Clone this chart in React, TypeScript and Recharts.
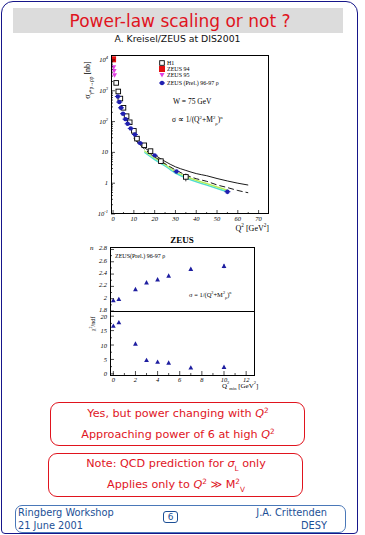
import React from 'react'
import { ComposedChart, ScatterChart, Scatter, Line, Area, XAxis, YAxis, ErrorBar } from 'recharts'

// sigma(gamma* p -> rho p) at W = 75 GeV
const h1Q2 = [1.5, 2.5, 3.5, 5, 6.5, 8, 10, 11.5, 15, 18, 23, 35]
const h1Sigma = [1800, 950, 560, 280, 150, 95, 50, 28, 17, 11, 5.2, 1.6]
const h1Err = [0, 0, 0, 0, 0, 0, 0, 0, 0, 1.5, 0.8, 0.45]

const zeus94Q2 = [0]
const zeus94Sigma = [10500]

const zeus95Q2 = [0.3, 0.5, 0.7]
const zeus95Sigma = [5800, 4400, 3200]

const prelQ2 = [2.3, 3, 3.8, 4.8, 6, 7, 8.5, 10.5, 13, 20, 30.5, 55]
const prelSigma = [650, 430, 280, 180, 120, 85, 60, 38, 20, 8, 2.4, 0.53]
const prelErr = [0, 0, 0, 0, 0, 0, 0, 0, 0, 0, 0.2, 0.09]

// the two fitted curves (solid and dashed)
const fitQ2 = [10, 15, 20, 25, 30, 35, 40, 45, 50, 55, 60, 65]
const fitSolid = [30, 14.5, 8.3, 5.1, 3.4, 2.6, 2.05, 1.75, 1.42, 1.18, 1.0, 0.87]
const fitDashed = [28, 13, 7.2, 4.3, 2.7, 1.85, 1.4, 1.15, 0.88, 0.72, 0.58, 0.49]

// coloured band
const bandQ2 = [15, 20, 25, 30, 35, 40, 45, 50, 55]
const bandLow = [9.5, 5.5, 3.4, 2.0, 1.4, 1.05, 0.82, 0.64, 0.5]
const bandMid = [10.6, 6.2, 3.8, 2.25, 1.57, 1.17, 0.92, 0.71, 0.56]
const bandHigh = [12, 7, 4.3, 2.5, 1.75, 1.32, 1.03, 0.8, 0.63]

// power n and chi2/ndf vs Q2_min
const minQ2 = [0, 0.5, 2, 3, 4, 5, 7, 10]
const powerN = [1.97, 1.99, 2.15, 2.26, 2.31, 2.37, 2.48, 2.53]
const powerErr = [0.01, 0.01, 0.015, 0.015, 0.015, 0.015, 0.02, 0.035]
const chi2 = [16.6, 17.8, 10.4, 4.7, 4.1, 3.8, 2.1, 2.3]

const xTicksTop = [0, 5, 10, 15, 20, 25, 30, 35, 40, 45, 50, 55, 60, 65, 70]
const xMajorsTop = [0, 10, 20, 30, 40, 50, 60, 70]
const logMajors = [0.1, 1, 10, 100, 1000, 10000]
const logTicks = [
  0.1, 0.2, 0.3, 0.4, 0.5, 0.6, 0.7, 0.8, 0.9,
  1, 2, 3, 4, 5, 6, 7, 8, 9,
  10, 20, 30, 40, 50, 60, 70, 80, 90,
  100, 200, 300, 400, 500, 600, 700, 800, 900,
  1000, 2000, 3000, 4000, 5000, 6000, 7000, 8000, 9000, 10000,
]
const xTicksLow = [0, 1, 2, 3, 4, 5, 6, 7, 8, 9, 10, 11, 12]
const xMajorsLow = [0, 2, 4, 6, 8, 10, 12]
const nTicks = [1.8, 1.9, 2, 2.1, 2.2, 2.3, 2.4, 2.5, 2.6, 2.7, 2.8]
const nMajors = [1.8, 2, 2.2, 2.4, 2.6, 2.8]
const chiTicks = [0, 2.5, 5, 7.5, 10, 12.5, 15, 17.5, 20]
const chiMajors = [0, 5, 10, 15, 20]

const h1Data = h1Q2.map((q, i) => ({ q2: q, sigma: h1Sigma[i], err: h1Err[i] }))
const zeus94Data = zeus94Q2.map((q, i) => ({ q2: q, sigma: zeus94Sigma[i] }))
const zeus95Data = zeus95Q2.map((q, i) => ({ q2: q, sigma: zeus95Sigma[i] }))
const prelData = prelQ2.map((q, i) => ({ q2: q, sigma: prelSigma[i], err: prelErr[i] }))
const solidData = fitQ2.map((q, i) => ({ q2: q, sigma: fitSolid[i] }))
const dashedData = fitQ2.map((q, i) => ({ q2: q, sigma: fitDashed[i] }))
const bandLowData = bandQ2.map((q, i) => ({ q2: q, band: [bandLow[i], bandMid[i]] }))
const bandHighData = bandQ2.map((q, i) => ({ q2: q, band: [bandMid[i], bandHigh[i]] }))
const nData = minQ2.map((q, i) => ({ q2: q, n: powerN[i], err: powerErr[i] }))
const chiData = minQ2.map((q, i) => ({ q2: q, chi: chi2[i] }))

const RED = '#e0141e'
const NAVY = '#1e1ea0'
const FOOT = '#1c4f96'
const PLOT_FONT = '"Liberation Serif", serif'

const openSquare = (p: any) => (
  <rect x={p.cx - 2.3} y={p.cy - 2.3} width={4.6} height={4.6} fill="#fff" stroke="#000" strokeWidth={0.9} />
)
const redSquare = (p: any) => <rect x={p.cx - 3} y={p.cy - 3} width={6} height={6} fill="#e41010" />
const invTriangle = (p: any) => (
  <polygon points={`${p.cx - 2.5},${p.cy - 2} ${p.cx + 2.5},${p.cy - 2} ${p.cx},${p.cy + 2.5}`} fill="#e040e0" />
)
const blueStar = (p: any) => (
  <g>
    <circle cx={p.cx} cy={p.cy} r={2.2} fill="#2020b0" />
    <line x1={p.cx - 3} x2={p.cx + 3} y1={p.cy} y2={p.cy} stroke="#2020b0" strokeWidth={1} />
  </g>
)
const triangle = (p: any) => (
  <polygon points={`${p.cx},${p.cy - 2.6} ${p.cx - 2.4},${p.cy + 1.8} ${p.cx + 2.4},${p.cy + 1.8}`} fill={NAVY} />
)

// ticks point inward, like the PAW frame
const makeYTick = (majors: number[], fmt: (v: number) => React.ReactNode, dyLabel = 2) => (props: any) => {
  const { x, y, payload } = props
  const major = majors.some((m) => Math.abs(m - payload.value) < 1e-9)
  return (
    <g>
      <line x1={x} x2={x + (major ? 4 : 2)} y1={y} y2={y} stroke="#000" strokeWidth={0.7} />
      {major && (
        <text x={x - 3} y={y + dyLabel} textAnchor="end" fontSize={6.5} fontStyle="italic" fontFamily={PLOT_FONT} fill="#000">
          {fmt(payload.value)}
        </text>
      )}
    </g>
  )
}
const makeXTick = (majors: number[], showLabel = true) => (props: any) => {
  const { x, y, payload } = props
  const major = majors.includes(payload.value)
  return (
    <g>
      <line x1={x} x2={x} y1={y} y2={y - (major ? 4 : 2)} stroke="#000" strokeWidth={0.7} />
      {major && showLabel && (
        <text x={x} y={y + 7} textAnchor="middle" fontSize={6.5} fontStyle="italic" fontFamily={PLOT_FONT} fill="#000">
          {payload.value}
        </text>
      )}
    </g>
  )
}

const logLabel = (v: number) => {
  const e = Math.round(Math.log10(v))
  if (e === 0) return '1'
  if (e === 1) return '10'
  return (
    <>
      <tspan>10</tspan>
      <tspan dy={-3} fontSize={4.5}>{e}</tspan>
    </>
  )
}

const LogYTick = makeYTick(logMajors, logLabel)
const TopXTick = makeXTick(xMajorsTop)
const NYTick = makeYTick(nMajors, (v) => String(Math.round(v * 10) / 10), 1)
const ChiYTick = makeYTick(chiMajors, (v) => String(v), 2.5)
const LowXTick = makeXTick(xMajorsLow)
const MidXTick = makeXTick(xMajorsLow, false)

const Txt = ({ x, y, size, children, align = 'left', style = {} }: any) => (
  <div
    style={{
      position: 'absolute',
      left: x,
      top: y,
      transform: align === 'center' ? 'translate(-50%,-50%)' : align === 'right' ? 'translate(-100%,-50%)' : 'translateY(-50%)',
      fontSize: size,
      lineHeight: 1,
      whiteSpace: 'nowrap',
      ...style,
    }}
  >
    {children}
  </div>
)
const Sup = ({ children }: any) => (
  <span style={{ fontSize: '0.65em', verticalAlign: 'super', lineHeight: 0 }}>{children}</span>
)
const Sub = ({ children }: any) => (
  <span style={{ fontSize: '0.65em', verticalAlign: 'sub', lineHeight: 0 }}>{children}</span>
)
const Frame = ({ x, y, w, h }: any) => (
  <div style={{ position: 'absolute', left: x, top: y, width: w, height: h, border: '1px solid #000', boxSizing: 'border-box', pointerEvents: 'none' }} />
)

const legendRows = [
  { label: 'H1', y: 62.5, shape: openSquare },
  { label: 'ZEUS 94', y: 68.5, shape: redSquare },
  { label: 'ZEUS 95', y: 75, shape: invTriangle },
  { label: 'ZEUS (Prel.) 96-97 ρ', y: 83.3, shape: blueStar },
]

const App = () => {
  return (
    <div style={{ position: 'absolute', left: 0, top: 0, width: 365, height: 535, background: '#fff', overflow: 'hidden', fontFamily: '"DejaVu Sans", sans-serif' }}>
      {/* slide frame */}
      <div style={{ position: 'absolute', left: 1, top: 1, width: 357, height: 533, border: '1.5px solid #16168a', borderRadius: '12px 12px 4px 4px', boxSizing: 'border-box' }} />
      <div style={{ position: 'absolute', left: 13, top: 8, width: 330, height: 25, background: '#dcdcdc' }} />
      <Txt x={180} y={20.5} size={17} align="center" style={{ color: RED }}>Power-law scaling or not ?</Txt>
      <Txt x={177.5} y={38.5} size={9.3} align="center" style={{ color: '#111' }}>A. Kreisel/ZEUS at DIS2001</Txt>

      {/* cross section vs Q2 */}
      <div style={{ position: 'absolute', left: 60, top: 48 }}>
        <ComposedChart width={230} height={185} margin={{ top: 7, right: 21, bottom: 0, left: 11 }}>
          <XAxis type="number" dataKey="q2" domain={[-1, 75]} allowDataOverflow ticks={xTicksTop} interval={0}
            tick={<TopXTick />} tickLine={false} axisLine={false} tickSize={0} tickMargin={0} height={19} />
          <YAxis type="number" scale="log" domain={[0.1, 14500]} allowDataOverflow ticks={logTicks} interval={0}
            tick={<LogYTick />} tickLine={false} axisLine={false} tickSize={0} tickMargin={0} width={40} />
          <Area data={bandLowData} dataKey="band" type="monotone" stroke="none" fill="#4fdcd0" fillOpacity={1} isAnimationActive={false} />
          <Area data={bandHighData} dataKey="band" type="monotone" stroke="none" fill="#b4ee58" fillOpacity={1} isAnimationActive={false} />
          <Line data={solidData} dataKey="sigma" type="monotone" stroke="#000" strokeWidth={0.9} dot={false} isAnimationActive={false} />
          <Line data={dashedData} dataKey="sigma" type="monotone" stroke="#000" strokeWidth={0.9} strokeDasharray="6 3" dot={false} isAnimationActive={false} />
          <Scatter data={h1Data} dataKey="sigma" shape={openSquare} isAnimationActive={false}>
            <ErrorBar dataKey="err" direction="y" width={0} stroke="#000" strokeWidth={0.8} />
          </Scatter>
          <Scatter data={zeus94Data} dataKey="sigma" shape={redSquare} isAnimationActive={false} />
          <Scatter data={zeus95Data} dataKey="sigma" shape={invTriangle} isAnimationActive={false} />
          <Scatter data={prelData} dataKey="sigma" shape={blueStar} isAnimationActive={false}>
            <ErrorBar dataKey="err" direction="y" width={0} stroke="#2020b0" strokeWidth={0.8} />
          </Scatter>
        </ComposedChart>
      </div>
      <Frame x={111} y={55} w={158} h={159} />

      {legendRows.map((r) => (
        <div key={r.label}>
          <svg style={{ position: 'absolute', left: 158, top: r.y - 4 }} width={8} height={8}>
            {r.shape({ cx: 4, cy: 4 })}
          </svg>
          <Txt x={167} y={r.y} size={6} style={{ fontFamily: PLOT_FONT }}>{r.label}</Txt>
        </div>
      ))}
      <Txt x={173} y={102} size={7.5} style={{ fontFamily: PLOT_FONT }}>W = 75 GeV</Txt>
      <Txt x={172} y={120} size={7.5} style={{ fontFamily: PLOT_FONT }}>
        σ ∝ 1/(Q<Sup>2</Sup>+M<Sup>2</Sup><Sub>ρ</Sub>)<Sup>n</Sup>
      </Txt>
      <Txt x={88} y={80} size={8} align="center" style={{ fontFamily: PLOT_FONT, transform: 'translate(-50%,-50%) rotate(-90deg)' }}>
        σ<Sub>γ*p→ρp</Sub> [nb]
      </Txt>
      <Txt x={269} y={228.5} size={8} align="right" style={{ fontFamily: PLOT_FONT }}>
        Q<Sup>2</Sup> [GeV<Sup>2</Sup>]
      </Txt>

      {/* power n and chi2 vs Q2_min */}
      <Txt x={182} y={240} size={9} align="center" style={{ fontFamily: PLOT_FONT, fontWeight: 'bold' }}>ZEUS</Txt>
      <div style={{ position: 'absolute', left: 60, top: 240 }}>
        <ScatterChart width={215} height={77} margin={{ top: 7, right: 20, bottom: 6, left: 10 }}>
          <XAxis type="number" dataKey="q2" domain={[-0.3, 12.8]} allowDataOverflow ticks={xTicksLow} interval={0}
            tick={<MidXTick />} tickLine={false} axisLine={false} tickSize={0} tickMargin={0} height={0} />
          <YAxis type="number" dataKey="n" domain={[1.8, 2.84]} allowDataOverflow ticks={nTicks} interval={0}
            tick={<NYTick />} tickLine={false} axisLine={false} tickSize={0} tickMargin={0} width={40} />
          <Scatter data={nData} dataKey="n" shape={triangle} isAnimationActive={false}>
            <ErrorBar dataKey="err" direction="y" width={0} stroke={NAVY} strokeWidth={0.8} />
          </Scatter>
        </ScatterChart>
      </div>
      <Frame x={110} y={247} w={145} h={65} />
      <Txt x={115} y={255.5} size={6} style={{ fontFamily: PLOT_FONT }}>ZEUS(Prel.) 96-97 ρ</Txt>
      <Txt x={189} y={295} size={6.5} style={{ fontFamily: PLOT_FONT }}>
        σ = 1/(Q<Sup>2</Sup>+M<Sup>2</Sup><Sub>ρ</Sub>)<Sup>n</Sup>
      </Txt>
      <Txt x={90} y={248} size={7} style={{ fontFamily: PLOT_FONT, fontStyle: 'italic' }}>n</Txt>

      <div style={{ position: 'absolute', left: 60, top: 304 }}>
        <ScatterChart width={215} height={86} margin={{ top: 7, right: 20, bottom: 0, left: 10 }}>
          <XAxis type="number" dataKey="q2" domain={[-0.3, 12.8]} allowDataOverflow ticks={xTicksLow} interval={0}
            tick={<LowXTick />} tickLine={false} axisLine={false} tickSize={0} tickMargin={0} height={15} />
          <YAxis type="number" dataKey="chi" domain={[-0.4, 21.8]} allowDataOverflow ticks={chiTicks} interval={0}
            tick={<ChiYTick />} tickLine={false} axisLine={false} tickSize={0} tickMargin={0} width={40} />
          <Scatter data={chiData} dataKey="chi" shape={triangle} isAnimationActive={false} />
        </ScatterChart>
      </div>
      <Frame x={110} y={311} w={145} h={65} />
      <Txt x={93} y={324} size={6} align="center" style={{ fontFamily: PLOT_FONT, transform: 'translate(-50%,-50%) rotate(-90deg)' }}>
        χ<Sup>2</Sup>/ndf
      </Txt>
      <Txt x={222} y={386} size={7} style={{ fontFamily: PLOT_FONT }}>
        Q<Sup>2</Sup><Sub>min</Sub> [GeV<Sup>2</Sup>]
      </Txt>

      {/* conclusions */}
      <div style={{ position: 'absolute', left: 50, top: 402, width: 255, height: 44, border: `1.3px solid ${RED}`, borderRadius: 9, boxSizing: 'border-box' }} />
      <Txt x={178} y={414} size={11.2} align="center" style={{ color: RED }}>
        Yes, but power changing with <i>Q</i><Sup>2</Sup>
      </Txt>
      <Txt x={178} y={435} size={11.2} align="center" style={{ color: RED }}>
        Approaching power of 6 at high <i>Q</i><Sup>2</Sup>
      </Txt>
      <div style={{ position: 'absolute', left: 48, top: 453, width: 255, height: 44, border: `1.3px solid ${RED}`, borderRadius: 9, boxSizing: 'border-box' }} />
      <Txt x={176} y={463.5} size={11.2} align="center" style={{ color: RED }}>
        Note: QCD prediction for <i>σ</i><Sub>L</Sub> only
      </Txt>
      <Txt x={176} y={484.5} size={11.2} align="center" style={{ color: RED }}>
        Applies only to <i>Q</i><Sup>2</Sup> ≫ M<Sup>2</Sup><Sub>V</Sub>
      </Txt>

      {/* footer */}
      <div style={{ position: 'absolute', left: 15, top: 505, width: 331, height: 28, border: '1px solid #4a78b8', borderRadius: 7, boxSizing: 'border-box' }} />
      <Txt x={18} y={512.5} size={9.8} style={{ color: FOOT }}>Ringberg Workshop</Txt>
      <Txt x={18} y={526} size={9.8} style={{ color: FOOT }}>21 June 2001</Txt>
      <Txt x={327} y={512.5} size={9.8} align="right" style={{ color: FOOT }}>J.A. Crittenden</Txt>
      <Txt x={327} y={526} size={9.8} align="right" style={{ color: FOOT }}>DESY</Txt>
      <div style={{ position: 'absolute', left: 163, top: 511, width: 15, height: 12, border: `1px solid ${FOOT}`, borderRadius: 3, boxSizing: 'border-box' }} />
      <Txt x={170.5} y={517} size={9} align="center" style={{ color: FOOT }}>6</Txt>
    </div>
  )
}

export default App
